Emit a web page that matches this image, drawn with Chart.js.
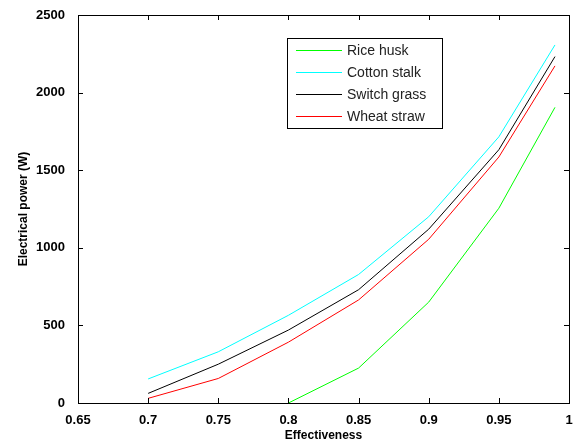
<!DOCTYPE html>
<html>
<head>
<meta charset="UTF-8">
<title>Electrical power vs effectiveness</title>
<style>
    body { margin: 0; background: #fff; }
    #wrap { width: 577px; height: 444px; }
</style>
</head>
<body>
<div id="wrap"><canvas id="chart" width="577" height="444"></canvas></div>
<script src="https://cdn.jsdelivr.net/npm/chart.js"></script>
<script>
    // values
    var effectiveness = [0.7, 0.75, 0.8, 0.85, 0.9, 0.95, 0.99];
    var riceHusk = [null, null, 0, 225, 650, 1255, 1905];
    var cottonStalk = [155, 330, 565, 828, 1200, 1715, 2307];
    var switchGrass = [62, 250, 470, 730, 1120, 1632, 2232];
    var wheatStraw = [30, 158, 392, 664, 1055, 1585, 2172];
    var xTicks = [0.65, 0.7, 0.75, 0.8, 0.85, 0.9, 0.95, 1];
    var yTicks = [0, 500, 1000, 1500, 2000, 2500];

    var seriesNames = ['Rice husk', 'Cotton stalk', 'Switch grass', 'Wheat straw'];
    var seriesColors = ['#00ff00', '#00ffff', '#000000', '#ff0000'];
    var seriesValues = [riceHusk, cottonStalk, switchGrass, wheatStraw];

    function points(vals) {
        let out = [];
        for (let i = 0; i < effectiveness.length; i++) {
            if (vals[i] !== null) out.push({ x: effectiveness[i], y: vals[i] });
        }
        return out;
    }

    let datasets = seriesNames.map(function (name, i) {
        return {
            label: name,
            data: points(seriesValues[i]),
            borderColor: seriesColors[i],
            backgroundColor: seriesColors[i],
            borderWidth: 1,
            pointRadius: 0,
            tension: 0
        };
    });

    // box frame + inward ticks, like the original plot
    const frame = {
        id: 'frame',
        afterDatasetsDraw(chart) {
            let ctx = chart.ctx, a = chart.chartArea;
            let xs = chart.scales.x, ys = chart.scales.y;
            ctx.save();
            ctx.strokeStyle = '#000';
            ctx.lineWidth = 1;
            ctx.strokeRect(a.left + 0.5, a.top + 0.5, a.right - a.left, a.bottom - a.top);
            ctx.beginPath();
            xTicks.forEach(function (v) {
                let px = Math.round(xs.getPixelForValue(v)) + 0.5;
                ctx.moveTo(px, a.bottom); ctx.lineTo(px, a.bottom - 5);
                ctx.moveTo(px, a.top); ctx.lineTo(px, a.top + 5);
            });
            yTicks.forEach(function (v) {
                let py = Math.round(ys.getPixelForValue(v)) + 0.5;
                ctx.moveTo(a.left, py); ctx.lineTo(a.left + 5, py);
                ctx.moveTo(a.right, py); ctx.lineTo(a.right - 5, py);
            });
            ctx.stroke();

            // legend box
            let bx = 287, by = 38, bw = 155, bh = 90;
            ctx.fillStyle = '#fff';
            ctx.fillRect(bx, by, bw, bh);
            ctx.strokeRect(bx + 0.5, by + 0.5, bw, bh);
            ctx.font = '14px "Liberation Sans", Arial, sans-serif';
            ctx.textBaseline = 'middle';
            seriesNames.forEach(function (name, i) {
                let yy = by + 12 + i * 22;
                ctx.strokeStyle = seriesColors[i];
                ctx.beginPath();
                ctx.moveTo(bx + 9, yy + 0.5); ctx.lineTo(bx + 55, yy + 0.5);
                ctx.stroke();
                ctx.fillStyle = '#222';
                ctx.fillText(name, bx + 60, yy + 1);
            });
            ctx.restore();
        }
    };

    const tickFont = { family: '"Liberation Sans", Arial', size: 13, weight: 'bold' };

    new Chart(document.getElementById('chart'), {
        type: 'line',
        data: { datasets: datasets },
        options: {
            responsive: false,
            animation: false,
            layout: { padding: { top: 15, right: 8, left: 0, bottom: 0 } },
            plugins: { legend: { display: false }, tooltip: { enabled: false } },
            scales: {
                x: {
                    type: 'linear',
                    min: 0.65, max: 1,
                    afterBuildTicks: function (s) { s.ticks = xTicks.map(function (v) { return { value: v }; }); },
                    afterFit: function (s) { s.height = 41; },
                    grid: { display: false },
                    border: { display: false },
                    ticks: {
                        color: '#000', font: tickFont, padding: 2, maxRotation: 0,
                        callback: function (v) { return String(v); }
                    },
                    title: {
                        display: true, text: 'Effectiveness', color: '#000',
                        font: { family: '"Liberation Sans", Arial', size: 12, weight: 'bold' },
                        padding: { top: 0, bottom: 1 }
                    }
                },
                y: {
                    min: 0, max: 2500,
                    afterBuildTicks: function (s) { s.ticks = yTicks.map(function (v) { return { value: v }; }); },
                    afterFit: function (s) { s.width = 78; },
                    grid: { display: false },
                    border: { display: false },
                    ticks: {
                        color: '#000', font: tickFont, padding: 5,
                        callback: function (v) { return String(v); }
                    },
                    title: {
                        display: true, text: 'Electrical power (W)', color: '#000',
                        font: { family: '"Liberation Sans", Arial', size: 12, weight: 'bold' },
                        padding: { top: 16, bottom: 0 }
                    }
                }
            }
        },
        plugins: [frame]
    });
</script>
</body>
</html>
